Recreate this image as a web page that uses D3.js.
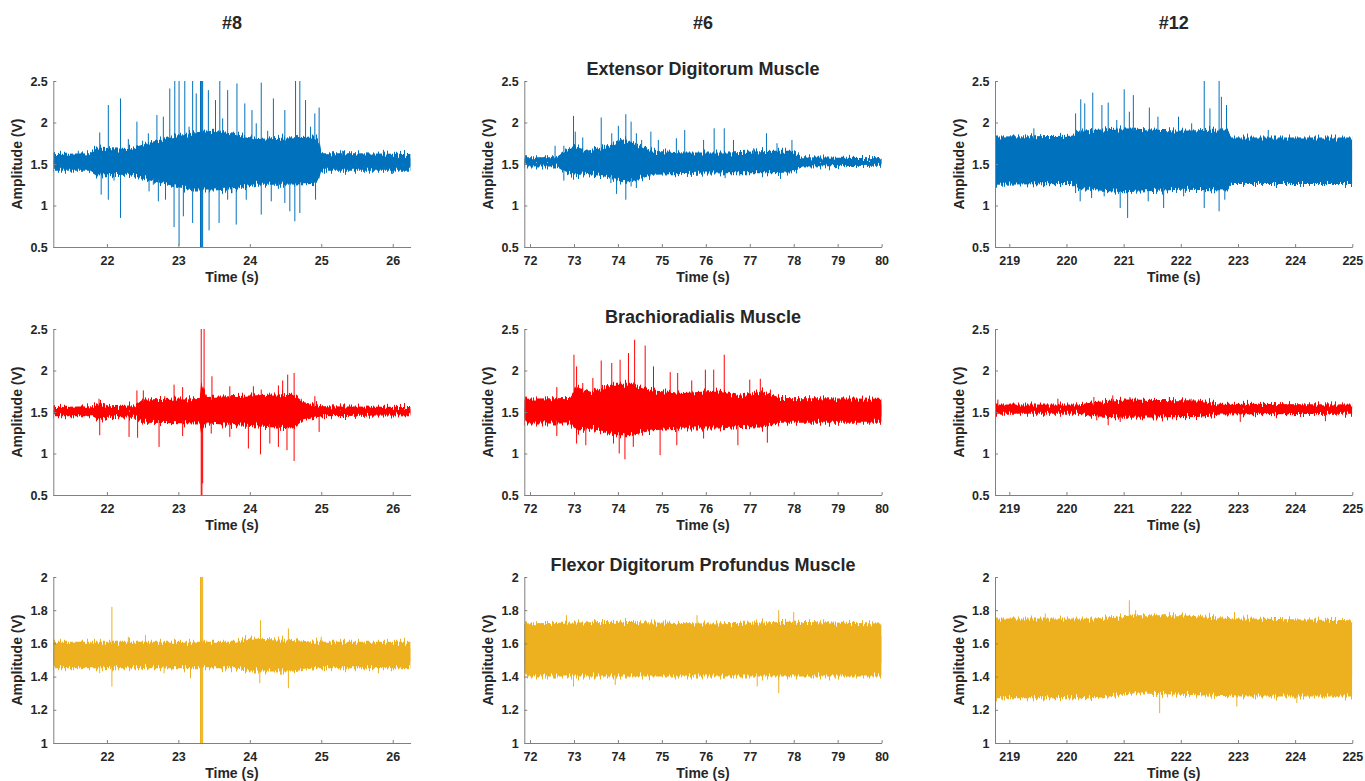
<!DOCTYPE html>
<html>
<head>
<meta charset="utf-8">
<script src="https://cdn.jsdelivr.net/npm/d3@7"></script>
<style>
	body { margin: 0; background: #fff; }
	svg text { font-family: "Liberation Sans", Arial, sans-serif; font-weight: bold; fill: #262626; }
</style>
</head>
<body>
<svg id="chart" width="1365" height="781"></svg>
<script>
// sessions (columns) and muscles (rows)
const sessionTitles = ["#8", "#6", "#12"];
const muscleTitles = ["Extensor Digitorum Muscle", "Brachioradialis Muscle", "Flexor Digitorum Profundus Muscle"];
const muscleColours = ["#0072BD", "#FF0000", "#EDB120"];

const timeDomains = [[21.25, 26.25], [71.87, 80], [218.75, 225]];
const timeTicks = [[22, 23, 24, 25, 26], [72, 73, 74, 75, 76, 77, 78, 79, 80], [219, 220, 221, 222, 223, 224, 225]];
const ampDomains = [[0.5, 2.5], [0.5, 2.5], [1, 2]];
const ampTicks = [[0.5, 1, 1.5, 2, 2.5], [0.5, 1, 1.5, 2, 2.5], [1, 1.2, 1.4, 1.6, 1.8, 2]];

// dense part of each signal: [time, low, high]
const extensor8Band = [[21.25,1.42,1.62],[21.75,1.42,1.63],[21.85,1.36,1.70],[22.3,1.37,1.68],[22.6,1.30,1.76],[22.9,1.24,1.83],[23.2,1.18,1.88],[23.5,1.18,1.90],[23.8,1.20,1.86],[24.1,1.25,1.80],[24.5,1.25,1.82],[24.9,1.26,1.83],[24.97,1.32,1.78],[25.0,1.42,1.63],[25.5,1.42,1.63],[26.25,1.42,1.62]];
const extensor6Band = [[71.75,1.47,1.58],[72.6,1.47,1.58],[72.8,1.40,1.66],[73.0,1.36,1.72],[73.3,1.38,1.66],[73.8,1.34,1.72],[74.1,1.28,1.80],[74.4,1.30,1.74],[74.8,1.37,1.66],[75.5,1.38,1.64],[76.5,1.39,1.64],[77.5,1.39,1.66],[78.0,1.40,1.66],[78.2,1.47,1.58],[80.0,1.48,1.57]];
const extensor12Band = [[218.75,1.25,1.83],[220.1,1.26,1.84],[220.2,1.20,1.90],[221.0,1.16,1.93],[222.0,1.19,1.90],[222.8,1.18,1.92],[222.9,1.26,1.82],[225.0,1.26,1.82]];
const brachio8Band = [[21.25,1.45,1.56],[21.8,1.45,1.57],[21.9,1.40,1.61],[22.05,1.44,1.57],[22.4,1.43,1.58],[22.5,1.37,1.65],[23.3,1.36,1.67],[23.32,1.25,1.85],[23.4,1.36,1.68],[24.0,1.33,1.70],[24.6,1.30,1.72],[24.75,1.40,1.62],[25.0,1.45,1.57],[26.25,1.46,1.56]];
const brachio6Band = [[71.75,1.36,1.66],[72.9,1.36,1.67],[73.05,1.27,1.80],[73.4,1.30,1.74],[73.9,1.22,1.84],[74.3,1.22,1.84],[74.8,1.28,1.76],[75.5,1.30,1.73],[76.3,1.30,1.76],[76.8,1.32,1.70],[77.3,1.31,1.75],[77.7,1.37,1.67],[80.0,1.37,1.66]];
const brachio12Band = [[218.75,1.48,1.59],[220.2,1.48,1.59],[220.5,1.45,1.62],[221.0,1.43,1.65],[222.3,1.44,1.64],[222.7,1.47,1.60],[225.0,1.48,1.59]];
const flexor8Band = [[21.25,1.45,1.61],[23.8,1.45,1.61],[24.0,1.43,1.63],[24.6,1.43,1.62],[24.9,1.45,1.61],[26.25,1.45,1.61]];
const flexor6Band = [[71.75,1.40,1.72],[74.0,1.40,1.73],[76.0,1.40,1.72],[78.0,1.40,1.73],[80.0,1.40,1.72]];
const flexor12Band = [[218.75,1.27,1.75],[220.5,1.27,1.75],[221.2,1.30,1.77],[222.0,1.29,1.77],[223.0,1.28,1.75],[225.0,1.28,1.74]];

// single excursions out of the dense part: [time, value]
const extensor8Spikes = [[21.60,1.66],[21.90,1.88],[21.92,1.13],[22.02,2.21],[22.02,1.07],[22.10,1.30],[22.19,2.29],[22.19,0.85],[22.30,1.80],[22.42,2.01],[22.50,1.78],[22.58,1.87],[22.59,1.17],[22.65,1.25],[22.70,2.09],[22.72,1.05],[22.79,2.07],[22.82,1.07],[22.88,2.41],[22.94,0.74],[22.95,2.5],[23.01,2.5],[23.01,0.52],[23.07,0.87],[23.09,2.5],[23.15,1.95],[23.20,2.5],[23.20,0.79],[23.25,2.35],[23.31,2.5],[23.31,0.5],[23.32,2.5],[23.32,0.5],[23.33,2.5],[23.33,0.5],[23.34,2.5],[23.34,0.5],[23.42,2.39],[23.43,0.70],[23.52,2.27],[23.57,0.79],[23.58,2.5],[23.62,2.05],[23.69,2.39],[23.69,1.07],[23.75,1.15],[23.81,0.77],[23.82,2.47],[23.93,2.23],[23.95,1.07],[24.03,2.15],[24.09,1.99],[24.16,2.48],[24.16,0.89],[24.25,1.90],[24.30,1.05],[24.33,2.29],[24.40,1.20],[24.49,2.15],[24.49,1.03],[24.56,0.93],[24.63,0.81],[24.64,2.5],[24.70,2.5],[24.70,0.91],[24.78,2.27],[24.85,1.95],[24.91,2.11],[24.92,1.07],[24.97,2.18],[25.30,1.66],[25.87,1.67],[26.00,1.38]];
const extensor6Spikes = [[72.57,1.72],[72.77,1.72],[72.77,1.30],[72.99,2.08],[72.99,1.31],[73.03,1.89],[73.20,1.82],[73.62,2.06],[73.84,1.27],[73.86,1.87],[73.97,1.14],[74.01,1.96],[74.18,2.10],[74.18,1.07],[74.30,2.01],[74.30,1.23],[74.42,1.87],[74.42,1.21],[74.54,1.79],[74.73,1.35],[74.75,1.89],[74.92,1.79],[75.33,1.81],[75.34,1.39],[75.52,1.91],[75.95,1.79],[76.19,1.93],[76.42,1.93],[76.44,1.33],[76.63,1.79],[76.77,1.36],[77.09,1.69],[77.38,1.87],[77.62,1.75],[77.70,1.32],[77.96,1.79]];
const extensor12Spikes = [[219.43,1.93],[220.16,2.11],[220.16,1.15],[220.24,1.05],[220.25,2.28],[220.32,2.23],[220.44,1.09],[220.46,2.36],[220.62,2.21],[220.66,1.11],[220.73,2.24],[220.88,2.03],[220.94,0.97],[221.01,2.40],[221.07,0.85],[221.10,2.13],[221.17,2.33],[221.43,1.05],[221.45,2.18],[221.60,2.07],[221.70,0.97],[221.96,2.07],[222.05,1.11],[222.19,1.99],[222.41,2.5],[222.41,0.97],[222.51,2.17],[222.67,2.5],[222.67,0.93],[222.71,2.31],[222.77,1.07],[222.80,2.21],[223.53,1.91]];
const brachio8Spikes = [[21.89,1.66],[21.90,1.22],[22.31,1.20],[22.42,1.76],[22.43,1.19],[22.51,1.76],[22.73,1.08],[22.81,1.69],[22.94,1.83],[23.06,1.80],[23.06,1.21],[23.32,2.5],[23.32,0.5],[23.33,0.5],[23.34,0.64],[23.36,2.5],[23.46,1.24],[23.47,1.93],[23.72,1.81],[23.72,1.20],[23.98,1.06],[24.05,1.81],[24.15,0.99],[24.16,1.77],[24.28,1.12],[24.40,1.82],[24.40,1.08],[24.46,1.88],[24.52,1.04],[24.53,1.95],[24.62,1.97],[24.62,0.91],[24.72,1.66],[24.91,1.69],[24.97,1.26]];
const brachio6Spikes = [[72.61,1.80],[72.61,1.21],[73.00,2.19],[73.06,2.05],[73.06,1.12],[73.20,1.85],[73.27,1.10],[73.43,1.91],[73.62,2.12],[73.86,2.09],[73.90,1.12],[74.03,1.00],[74.05,2.13],[74.16,0.93],[74.24,2.21],[74.35,1.08],[74.38,2.37],[74.62,2.30],[74.81,2.05],[74.96,0.98],[75.19,1.98],[75.34,1.10],[75.36,1.97],[75.68,1.88],[75.95,1.18],[75.99,2.01],[76.18,2.01],[76.42,2.19],[76.73,1.10],[77.00,1.89],[77.24,1.90],[77.40,1.13],[77.47,1.77]];
const brachio12Spikes = [[218.80,1.65],[219.85,1.66],[220.48,1.68],[220.53,1.40],[220.73,1.34],[220.81,1.70],[220.94,1.38],[221.11,1.68],[221.33,1.40],[221.80,1.68],[222.18,1.66],[223.04,1.38],[224.53,1.39]];
const flexor8Spikes = [[21.90,1.42],[22.07,1.82],[22.07,1.34],[22.30,1.64],[22.54,1.65],[22.80,1.42],[23.17,1.39],[23.31,2],[23.31,1],[23.32,2],[23.32,1],[23.33,2],[23.33,1],[23.34,2],[23.34,1],[23.94,1.65],[24.14,1.36],[24.15,1.74],[24.44,1.41],[24.54,1.69],[24.54,1.33],[25.00,1.64],[25.80,1.42]];
const flexor6Spikes = [[72.83,1.77],[72.99,1.34],[73.94,1.35],[75.80,1.77],[77.17,1.34],[77.66,1.80],[77.66,1.30],[78.00,1.79]];
const flexor12Spikes = [[219.63,1.78],[221.10,1.86],[221.21,1.80],[221.63,1.18],[222.94,1.79],[222.98,1.22],[224.03,1.24]];

const bands = [
	[extensor8Band, extensor6Band, extensor12Band],
	[brachio8Band, brachio6Band, brachio12Band],
	[flexor8Band, flexor6Band, flexor12Band]
];
const spikes = [
	[extensor8Spikes, extensor6Spikes, extensor12Spikes],
	[brachio8Spikes, brachio6Spikes, brachio12Spikes],
	[flexor8Spikes, flexor6Spikes, flexor12Spikes]
];

// layout
const colLeft = [53.3, 524.3, 995];
const rowTop = [81, 329, 577];
const plotW = 357.3;
const plotH = 166;
const axisGrey = "#808080";

const svg = d3.select("#chart");
svg.append("rect").attr("width", 1365).attr("height", 781).attr("fill", "#fff");

// rough edge texture for the dense bands (shifts pixel columns up/down a little)
const defs = svg.append("defs");
[["edgeTop", 3], ["edgeBottom", 11]].forEach(([id, seed]) => {
	const f = defs.append("filter").attr("id", id)
	              .attr("x", "-2%").attr("y", "-40%").attr("width", "104%").attr("height", "180%")
	              .attr("color-interpolation-filters", "sRGB");
	f.append("feTurbulence").attr("type", "fractalNoise").attr("baseFrequency", "0.55 0")
	 .attr("numOctaves", 2).attr("seed", seed).attr("result", "noise");
	f.append("feColorMatrix").attr("in", "noise").attr("type", "matrix")
	 .attr("values", "0 0 0 0 0.5  1 0 0 0 0  0 0 0 0 0  0 0 0 0 1").attr("result", "shift");
	f.append("feDisplacementMap").attr("in", "SourceGraphic").attr("in2", "shift")
	 .attr("scale", 15).attr("xChannelSelector", "R").attr("yChannelSelector", "G");
});

function bandMid(band, t) {
	const i = Math.max(1, Math.min(band.length - 1, d3.bisector(d => d[0]).left(band, t)));
	const a = band[i - 1], b = band[i];
	const k = Math.max(0, Math.min(1, (t - a[0]) / (b[0] - a[0])));
	return ((a[1] + a[2]) / 2) * (1 - k) + ((b[1] + b[2]) / 2) * k;
}

function drawPanel(row, col) {
	const colour = muscleColours[row];
	const band = bands[row][col];
	const x = d3.scaleLinear().domain(timeDomains[col]).range([colLeft[col], colLeft[col] + plotW]);
	const y = d3.scaleLinear().domain(ampDomains[row]).range([rowTop[row] + plotH, rowTop[row]]);

	const clipId = `clip-${row}-${col}`;
	defs.append("clipPath").attr("id", clipId)
	    .append("rect")
	    .attr("x", colLeft[col]).attr("y", rowTop[row])
	    .attr("width", plotW).attr("height", plotH);

	const g = svg.append("g").attr("clip-path", `url(#${clipId})`);

	// upper and lower halves get separate edge textures, overlapping in the middle
	const mid = d => (d[1] + d[2]) / 2;
	const upper = d3.area().x(d => x(d[0])).y0(d => y(mid(d) - (d[2] - d[1]) * 0.25)).y1(d => y(d[2]));
	const lower = d3.area().x(d => x(d[0])).y0(d => y(d[1])).y1(d => y(mid(d) + (d[2] - d[1]) * 0.25));

	g.append("g").attr("filter", "url(#edgeTop)")
	 .append("path").datum(band).attr("fill", colour).attr("d", upper);
	g.append("g").attr("filter", "url(#edgeBottom)")
	 .append("path").datum(band).attr("fill", colour).attr("d", lower);

	g.selectAll(".spike")
	 .data(spikes[row][col])
	 .enter()
	 .append("line")
	 .attr("class", "spike")
	 .attr("x1", d => x(d[0]))
	 .attr("x2", d => x(d[0]))
	 .attr("y1", d => y(bandMid(band, d[0])))
	 .attr("y2", d => y(d[1]))
	 .attr("stroke", colour)
	 .attr("stroke-width", 1);

	const xAxis = d3.axisBottom(x).tickValues(timeTicks[col]).tickFormat(d => d)
	                .tickSizeInner(-3).tickSizeOuter(0).tickPadding(9.5);
	const yAxis = d3.axisLeft(y).tickValues(ampTicks[row]).tickFormat(d => d)
	                .tickSizeInner(-3).tickSizeOuter(0).tickPadding(5.5);

	const gx = svg.append("g").attr("transform", `translate(0,${rowTop[row] + plotH})`).call(xAxis);
	const gy = svg.append("g").attr("transform", `translate(${colLeft[col]},0)`).call(yAxis);
	[gx, gy].forEach(ax => {
		ax.attr("font-family", null).attr("font-size", 12.5);
		ax.selectAll("path, line").attr("stroke", axisGrey);
	});

	svg.append("text")
	   .attr("x", colLeft[col] + plotW / 2)
	   .attr("y", rowTop[row] + plotH + 35)
	   .attr("text-anchor", "middle")
	   .style("font-size", "14px")
	   .text("Time (s)");

	svg.append("text")
	   .attr("transform", `translate(${colLeft[col] - 31},${rowTop[row] + plotH / 2}) rotate(-90)`)
	   .attr("text-anchor", "middle")
	   .style("font-size", "14px")
	   .text("Amplitude (V)");
}

for (let row = 0; row < 3; row++) {
	for (let col = 0; col < 3; col++) {
		drawPanel(row, col);
	}
}

sessionTitles.forEach((title, col) => {
	svg.append("text")
	   .attr("x", colLeft[col] + plotW / 2)
	   .attr("y", 28.5)
	   .attr("text-anchor", "middle")
	   .style("font-size", "18px")
	   .text(title);
});

muscleTitles.forEach((title, row) => {
	svg.append("text")
	   .attr("x", colLeft[1] + plotW / 2)
	   .attr("y", rowTop[row] - 6.5)
	   .attr("text-anchor", "middle")
	   .style("font-size", "18px")
	   .text(title);
});
</script>
</body>
</html>
